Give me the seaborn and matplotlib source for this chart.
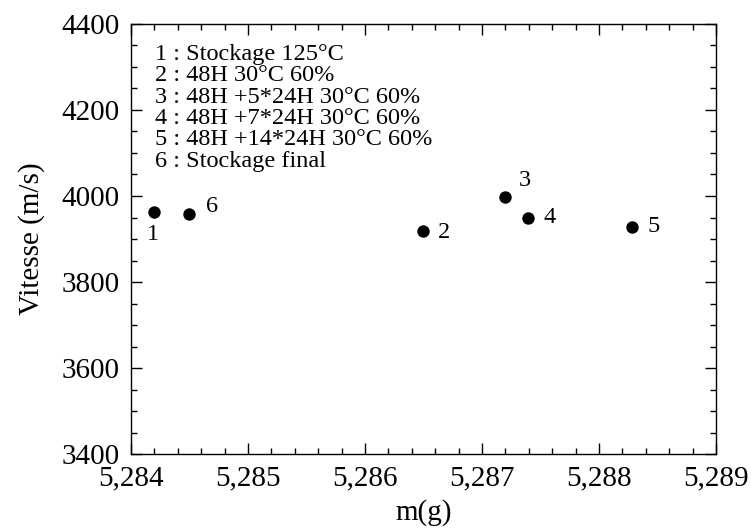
import matplotlib
matplotlib.use("Agg")
import matplotlib.pyplot as plt
from matplotlib.ticker import MultipleLocator, FuncFormatter
import seaborn as sns
import pandas as pd

# Measured samples: mass (g) and ultrasonic velocity (m/s)
masses = [5.28420, 5.28650, 5.28720, 5.28739, 5.28828, 5.28450]
velocities = [3963, 3919, 3997, 3950, 3928, 3957]
point_ids = ["1", "2", "3", "4", "5", "6"]

# Conditioning steps for each sample
legend_lines = [
    "1 : Stockage 125°C",
    "2 : 48H 30°C 60%",
    "3 : 48H +5*24H 30°C 60%",
    "4 : 48H +7*24H 30°C 60%",
    "5 : 48H +14*24H 30°C 60%",
    "6 : Stockage final",
]

x_ticks = [5.284, 5.285, 5.286, 5.287, 5.288, 5.289]
y_ticks = [3400, 3600, 3800, 4000, 4200, 4400]

# label offsets (points) for each sample number
label_offsets = [(-1, -16), (15, -1), (14, 12), (16, 0), (16, 0), (16, 6)]

sns.set_style("ticks")
plt.rcParams["font.family"] = ["Liberation Serif", "DejaVu Serif"]

df = pd.DataFrame({"m": masses, "v": velocities, "id": point_ids})

fig = plt.figure(figsize=(7.51, 5.32), dpi=100)
ax = fig.add_axes([0.1744, 0.1466, 0.779, 0.8083])

sns.scatterplot(data=df, x="m", y="v", ax=ax, color="black", s=80,
                edgecolor="black", linewidth=0, zorder=3, legend=False)

for xv, yv, lab, (dx, dy) in zip(masses, velocities, point_ids, label_offsets):
    ax.annotate(lab, (xv, yv), xytext=(dx, dy), textcoords="offset points",
                ha="center", va="center", fontsize=17.5, color="black")

for i, line in enumerate(legend_lines):
    ax.text(0.041, 0.916 - i * 0.0496, line, transform=ax.transAxes,
            ha="left", va="baseline", fontsize=17.5, color="black")

ax.set_xlim(x_ticks[0], x_ticks[-1])
ax.set_ylim(y_ticks[0], y_ticks[-1])
ax.set_xticks(x_ticks)
ax.set_yticks(y_ticks)
ax.xaxis.set_minor_locator(MultipleLocator(0.0002))
ax.yaxis.set_minor_locator(MultipleLocator(50))
ax.xaxis.set_major_formatter(FuncFormatter(lambda v, p: f"{v:.3f}".replace(".", ",")))

ax.tick_params(which="both", direction="in", top=True, right=True,
               color="black", width=1.0, labelsize=21, labelcolor="black")
ax.tick_params(which="major", length=8, pad=8)
ax.tick_params(which="minor", length=4)

for sp in ax.spines.values():
    sp.set_visible(True)
    sp.set_color("black")
    sp.set_linewidth(1.0)

ax.set_xlabel("m(g)", fontsize=21, color="black", labelpad=6)
ax.set_ylabel("Vitesse (m/s)", fontsize=21, color="black", labelpad=12)

fig.savefig("out.png", dpi=100, facecolor="white")
